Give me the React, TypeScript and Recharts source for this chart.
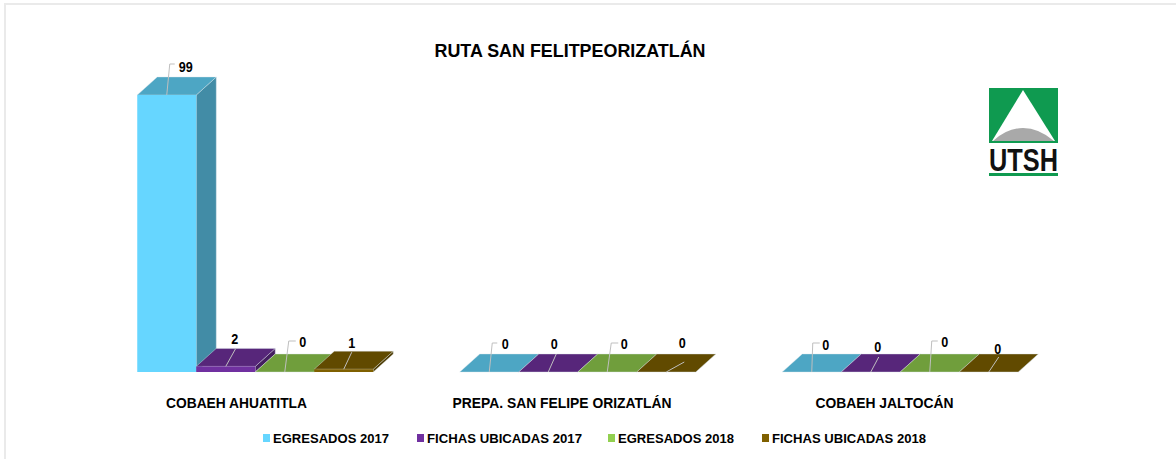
import { Bar, BarChart, LabelList, Legend, XAxis, YAxis } from "recharts";

const CATEGORIES = ["COBAEH AHUATITLA", "PREPA. SAN FELIPE ORIZATLÁN", "COBAEH JALTOCÁN"];
const EGRESADOS_2017 = [99, 0, 0];
const FICHAS_2017 = [2, 0, 0];
const EGRESADOS_2018 = [0, 0, 0];
const FICHAS_2018 = [1, 0, 0];

const chartData = CATEGORIES.map((name, i) => ({
    name,
    egresados2017: EGRESADOS_2017[i],
    fichas2017: FICHAS_2017[i],
    egresados2018: EGRESADOS_2018[i],
    fichas2018: FICHAS_2018[i],
}));

const FONT = "'Liberation Sans', Arial, sans-serif";
const DEPTH_X = 20;
const DEPTH_Y = 18;

// widths of the text in the picture, it was squeezed by the original export
const CATEGORY_WIDTHS = [141, 219, 138];
const CATEGORY_SHIFTS = [-18, -15, -15];
const LEGEND_TEXT_WIDTHS = [116, 155, 116, 154];
const LEGEND_LEFTS = [263, 417, 608, 762];

type Colors = { front: string; top: string; side: string };

const SERIES: { key: string; name: string; colors: Colors }[] = [
    { key: "egresados2017", name: "EGRESADOS 2017", colors: { front: "#66D6FF", top: "#4DA6C4", side: "#428CA6" } },
    { key: "fichas2017", name: "FICHAS UBICADAS 2017", colors: { front: "#7030A0", top: "#57267A", side: "#441E60" } },
    { key: "egresados2018", name: "EGRESADOS 2018", colors: { front: "#92D050", top: "#709E3C", side: "#5A8030" } },
    { key: "fichas2018", name: "FICHAS UBICADAS 2018", colors: { front: "#7F6000", top: "#614A00", side: "#4C3A00" } },
];

// hand placed data labels of the original: leader line points and text centre,
// relative to the middle of each bar's top front edge [series][category]
const LEADERS: { line: number[][]; text: number[] }[][] = [
    [
        { line: [[0, 0], [3, -31], [8, -31]], text: [19, -29] },
        { line: [[0, 0], [3, -29], [8, -29]], text: [16, -29] },
        { line: [[0, 0], [1, -29], [8, -29]], text: [14, -28] },
    ],
    [
        { line: [[0, 0], [10, -18]], text: [9, -28] },
        { line: [[0, 0], [8, -18]], text: [6, -29] },
        { line: [[0, 0], [8, -15]], text: [7, -26] },
    ],
    [
        { line: [[0, 0], [4, -31], [11, -31]], text: [18, -31] },
        { line: [[0, 0], [4, -29], [11, -29]], text: [17, -29] },
        { line: [[0, 0], [2, -31], [8, -31]], text: [15, -31] },
    ],
    [
        { line: [[0, 0], [8, -17]], text: [8, -27] },
        { line: [[0, 0], [18, -10]], text: [16, -30] },
        { line: [[0, 0], [10, -15]], text: [9, -24] },
    ],
];

const makeBarShape = (colors: Colors) => (props: any) => {
    const { x, y, width, height } = props;
    const r = x + width;
    const b = y + height;
    const dx = DEPTH_X;
    const dy = DEPTH_Y;
    return (
        <g stroke="#DCE6EA" strokeWidth={0.4} strokeLinejoin="round">
            <polygon points={`${r},${y} ${r + dx},${y - dy} ${r + dx},${b - dy} ${r},${b}`} fill={colors.side} />
            <polygon points={`${x},${y} ${r},${y} ${r + dx},${y - dy} ${x + dx},${y - dy}`} fill={colors.top} />
            {height > 0 && <rect x={x} y={y} width={width} height={height} fill={colors.front} stroke="none" />}
        </g>
    );
};

const makeLabel = (seriesIndex: number) => (props: any) => {
    const { x, y, width, value, index } = props;
    const leader = LEADERS[seriesIndex][index];
    const cx = x + width / 2;
    const text = String(value);
    return (
        <g>
            <polyline
                points={leader.line.map(([a, c]) => `${cx + a},${y + c}`).join(" ")}
                fill="none"
                stroke="#BFBFBF"
                strokeWidth={1}
            />
            <text
                x={cx + leader.text[0]}
                y={y + leader.text[1]}
                textAnchor="middle"
                dominantBaseline="central"
                fontFamily={FONT}
                fontWeight="bold"
                fontSize={15}
                fill="#000"
                textLength={text.length * 7}
                lengthAdjust="spacingAndGlyphs"
            >
                {text}
            </text>
        </g>
    );
};

const CategoryTick = ({ x, payload, index }: any) => (
    <text
        x={x + CATEGORY_SHIFTS[index]}
        y={408}
        textAnchor="middle"
        fontFamily={FONT}
        fontWeight="bold"
        fontSize={15}
        fill="#000"
        textLength={CATEGORY_WIDTHS[index]}
        lengthAdjust="spacingAndGlyphs"
    >
        {payload.value}
    </text>
);

const LegendContent = () => (
    <svg width={1176} height={20} style={{ display: "block" }}>
        {SERIES.map((s, i) => (
            <g key={s.key}>
                <rect x={LEGEND_LEFTS[i]} y={6} width={7} height={8} fill={s.colors.front} />
                <text
                    x={LEGEND_LEFTS[i] + 10}
                    y={15}
                    fontFamily={FONT}
                    fontWeight="bold"
                    fontSize={13.5}
                    fill="#000"
                    textLength={LEGEND_TEXT_WIDTHS[i]}
                    lengthAdjust="spacingAndGlyphs"
                >
                    {s.name}
                </text>
            </g>
        ))}
    </svg>
);

const Logo = () => (
    <svg
        width={110}
        height={90}
        viewBox="0 0 110 90"
        style={{ position: "absolute", left: 989, top: 88 }}
    >
        <rect x={0} y={0} width={69} height={55} fill="#0F9A50" />
        <polygon points="34,2 3,53 66,53" fill="#FFFFFF" />
        <path d="M4,53 Q18,40 34,40 Q50,40 65,53 Z" fill="#A9A9A9" />
        <text
            x={0}
            y={83}
            fontFamily={FONT}
            fontWeight="bold"
            fontSize={31}
            fill="#111"
            textLength={69}
            lengthAdjust="spacingAndGlyphs"
        >
            UTSH
        </text>
        <rect x={0} y={85} width={69} height={3} fill="#0F9A50" />
    </svg>
);

const App = () => {
    return (
        <div style={{ position: "absolute", left: 0, top: 0, width: 1176, height: 459, background: "#fff", overflow: "hidden" }}>
            <div style={{ position: "absolute", left: 4, top: 3, width: 1172, height: 456, borderTop: "2px solid #EAEAEA", borderLeft: "2px solid #EAEAEA" }} />
            <BarChart
                width={1176}
                height={459}
                data={chartData}
                margin={{ top: 95, right: 115.25, bottom: 57, left: 93.25 }}
                barCategoryGap={44}
                barGap={0}
                style={{ position: "absolute", left: 0, top: 0 }}
            >
                <text
                    x={570}
                    y={57}
                    textAnchor="middle"
                    fontFamily={FONT}
                    fontWeight="bold"
                    fontSize={19}
                    fill="#000"
                    textLength={271}
                    lengthAdjust="spacingAndGlyphs"
                >
                    RUTA SAN FELITPEORIZATLÁN
                </text>
                <XAxis dataKey="name" height={30} axisLine={false} tickLine={false} interval={0} tick={<CategoryTick />} />
                <YAxis hide domain={[0, 99]} />
                {SERIES.map((s, i) => (
                    <Bar
                        key={s.key}
                        dataKey={s.key}
                        name={s.name}
                        fill={s.colors.front}
                        isAnimationActive={false}
                        shape={makeBarShape(s.colors)}
                    >
                        <LabelList dataKey={s.key} content={makeLabel(i)} />
                    </Bar>
                ))}
                <Legend
                    verticalAlign="middle"
                    content={<LegendContent />}
                    wrapperStyle={{ position: "absolute", left: 0, top: 428, width: 1176, height: 20 }}
                />
            </BarChart>
            <Logo />
        </div>
    );
};

export default App;
